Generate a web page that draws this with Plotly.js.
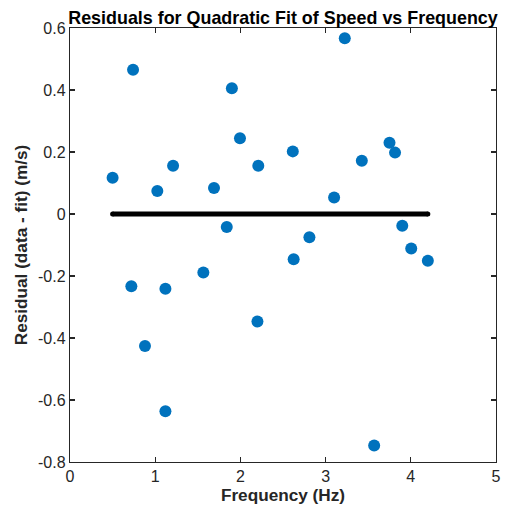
<!DOCTYPE html>
<html>
<head>
<meta charset="utf-8">
<script src="https://cdn.plot.ly/plotly-3.0.1.min.js"></script>
<style>html,body{margin:0;padding:0;background:#fff;}#chart{width:516px;height:510px;}</style>
</head>
<body>
<div id="chart"></div>
<script>
const freq = [0.50, 0.74, 0.72, 0.88, 1.025, 1.12, 1.12, 1.21, 1.565, 1.69, 1.84, 1.90, 1.995, 2.21, 2.20, 2.615, 2.625, 2.81, 3.10, 3.225, 3.425, 3.57, 3.75, 3.815, 3.90, 4.005, 4.20];
const resid = [0.117, 0.465, -0.233, -0.426, 0.074, -0.241, -0.636, 0.156, -0.189, 0.084, -0.042, 0.406, 0.244, 0.156, -0.347, 0.202, -0.146, -0.075, 0.053, 0.567, 0.172, -0.747, 0.230, 0.198, -0.038, -0.111, -0.151];
const zeroLineX = [0.50, 4.20];
const zeroLineY = [0, 0];
const xTicks = [0, 1, 2, 3, 4, 5];
const xTickText = ["0", "1", "2", "3", "4", "5"];
const yTicks = [-0.8, -0.6, -0.4, -0.2, 0, 0.2, 0.4, 0.6];
const yTickText = ["-0.8", "-0.6", "-0.4", "-0.2", "0", "0.2", "0.4", "0.6"];

const axisCol = '#262626';
const font = 'Arial, "Liberation Sans", Helvetica, sans-serif';

const traces = [
  {
    x: freq, y: resid, type: 'scatter', mode: 'markers',
    marker: {color: '#0072BD', size: 12},
    showlegend: false, hoverinfo: 'none'
  },
  {
    x: zeroLineX, y: zeroLineY, type: 'scatter', mode: 'lines+markers',
    line: {color: '#000000', width: 5},
    marker: {color: '#000000', size: 5},
    showlegend: false, hoverinfo: 'none'
  }
];

const axisCommon = {
  showgrid: false, zeroline: false, showline: true, mirror: 'ticks',
  linecolor: axisCol, linewidth: 1.2, ticks: 'inside', ticklen: 5, tickwidth: 1.2,
  tickcolor: axisCol, tickfont: {family: font, size: 16, color: axisCol}
};

const layout = {
  width: 516, height: 510,
  margin: {l: 70, r: 20, t: 28, b: 48},
  paper_bgcolor: '#ffffff', plot_bgcolor: '#ffffff',
  title: {
    text: '<b>Residuals for Quadratic Fit of Speed vs Frequency</b>',
    font: {family: font, size: 17.9, color: '#000000'},
    x: 0.5, xref: 'paper', xanchor: 'center', y: 1, yref: 'paper', yanchor: 'bottom',
    pad: {b: 4}
  },
  xaxis: Object.assign({}, axisCommon, {
    range: [0, 5], tickvals: xTicks, ticktext: xTickText,
    title: {text: '<b>Frequency (Hz)</b>', font: {family: font, size: 17.2, color: axisCol}, standoff: 4}
  }),
  yaxis: Object.assign({}, axisCommon, {
    range: [-0.8, 0.6], tickvals: yTicks, ticktext: yTickText,
    title: {text: '<b>Residual (data - fit) (m/s)</b>', font: {family: font, size: 17.2, color: axisCol}, standoff: 6}
  })
};

Plotly.newPlot('chart', traces, layout, {staticPlot: true, displayModeBar: false});
</script>
</body>
</html>
